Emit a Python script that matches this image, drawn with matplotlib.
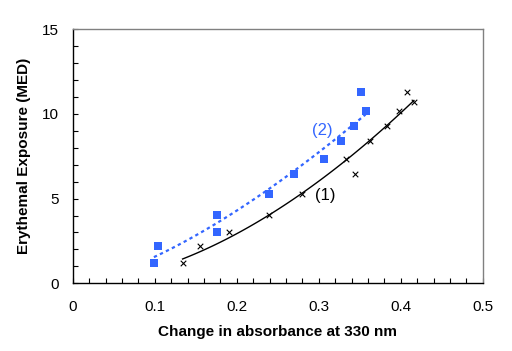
import numpy as np
import matplotlib.pyplot as plt
from matplotlib.ticker import MultipleLocator

# -------------------------
# Data
# -------------------------
# series (2): blue squares
x2 = [0.099, 0.104, 0.176, 0.176, 0.239, 0.270, 0.306, 0.327, 0.343, 0.352, 0.357]
y2 = [1.22, 2.22, 4.06, 3.05, 5.30, 6.48, 7.36, 8.43, 9.31, 11.32, 10.20]

# series (1): black crosses
x1 = [0.134, 0.155, 0.191, 0.239, 0.279, 0.333, 0.344, 0.362, 0.383, 0.398, 0.408, 0.416]
y1 = [1.18, 2.19, 3.03, 4.02, 5.28, 7.34, 6.46, 8.39, 9.29, 10.16, 11.30, 10.71]

BLUE = "#3366ff"

plt.rcParams["font.family"] = ["Liberation Sans", "DejaVu Sans"]

fig = plt.figure(figsize=(5.12, 3.51), dpi=100)
ax = fig.add_axes([0.142, 0.193, 0.801, 0.7235])

# -------------------------
# Power trendlines (fit in log space), drawn over each series' x range
# -------------------------
for xs, ys, style in [(x2, y2, dict(color=BLUE, ls=(0, (1.5, 1.5)), lw=1.6)),
                      (x1, y1, dict(color="black", ls="-", lw=1.0))]:
    b, a = np.polyfit(np.log(xs), np.log(ys), 1)
    xx = np.linspace(min(xs), max(xs), 100)
    ax.plot(xx, np.exp(a) * xx ** b, **style, zorder=2)

ax.scatter(x2, y2, marker="s", s=36, color=BLUE, linewidths=0, zorder=3)
ax.scatter(x1, y1, marker="x", s=16, color="black", linewidths=0.8, zorder=3)

ax.text(0.304, 9.0, "(2)", color=BLUE, fontsize=12, ha="center", va="center")
ax.text(0.308, 5.2, "(1)", color="black", fontsize=12, ha="center", va="center")

# -------------------------
# Axes styling
# -------------------------
ax.set_xlim(0, 0.5)
ax.set_ylim(0, 15)
ax.xaxis.set_minor_locator(MultipleLocator(0.02))
ax.yaxis.set_minor_locator(MultipleLocator(1))
ax.set_xticks([0, 0.1, 0.2, 0.3, 0.4, 0.5])
ax.set_xticklabels(["0", "0.1", "0.2", "0.3", "0.4", "0.5"])
ax.set_yticks([0, 5, 10, 15])
ax.set_yticklabels(["0", "5", "10", "15"])

ax.tick_params(which="both", direction="in", length=3.5, width=0.8,
               labelsize=11, colors="black", pad=10)
ax.tick_params(axis="x", pad=12)

for s in ["top", "right"]:
    ax.spines[s].set_color("#808080")
    ax.spines[s].set_linewidth(1.0)
for s in ["left", "bottom"]:
    ax.spines[s].set_color("black")
    ax.spines[s].set_linewidth(1.0)

ax.set_xlabel("Change in absorbance at 330 nm", fontsize=11, fontweight="bold", labelpad=8)
ax.set_ylabel("Erythemal Exposure (MED)", fontsize=11, fontweight="bold", labelpad=8)

fig.savefig("out.png", dpi=100)
